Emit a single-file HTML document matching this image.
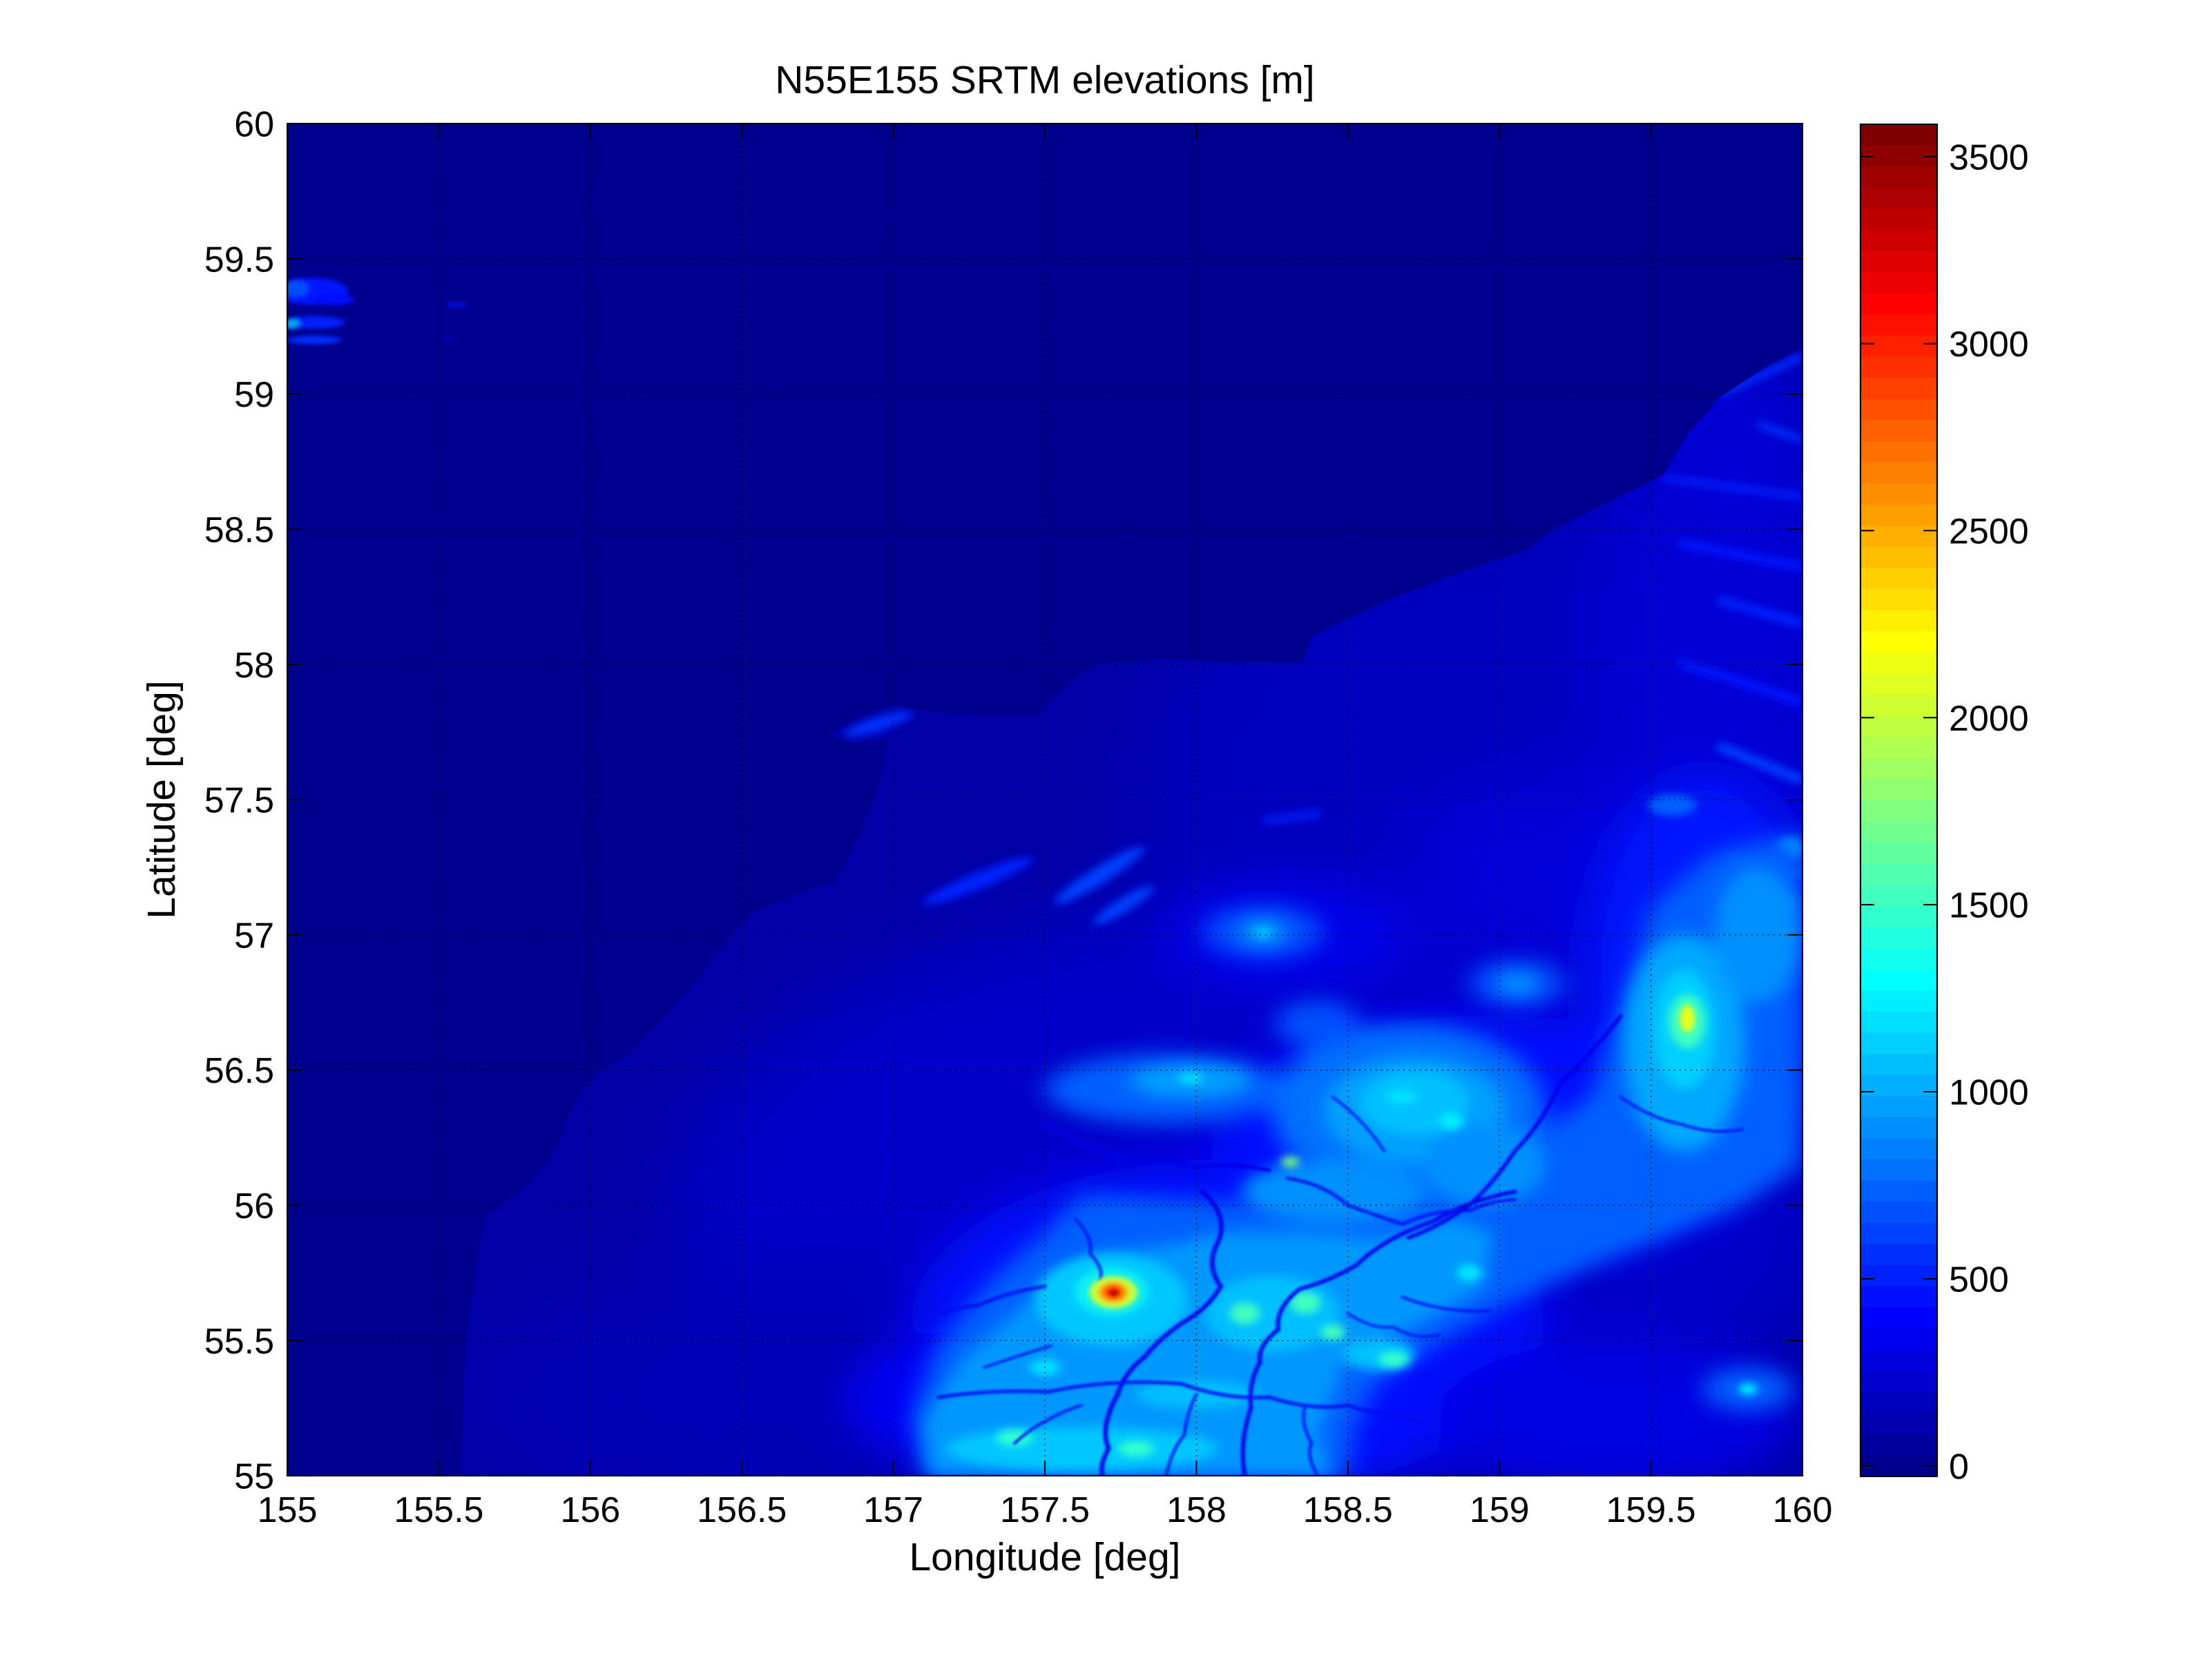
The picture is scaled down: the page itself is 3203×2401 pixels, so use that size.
<!DOCTYPE html>
<html><head><meta charset="utf-8">
<style>
html,body{margin:0;padding:0;background:#fff;}
svg{display:block;}
text{font-family:"Liberation Sans",Arial,Helvetica,sans-serif;fill:#000;}
</style></head><body>
<svg width="3203" height="2401" viewBox="0 0 3203 2401" xmlns="http://www.w3.org/2000/svg">
<defs>
 <filter id="b15" x="-100%" y="-100%" width="300%" height="300%"><feGaussianBlur stdDeviation="15"/></filter>
 <filter id="b8" x="-100%" y="-100%" width="300%" height="300%"><feGaussianBlur stdDeviation="8"/></filter>
 <filter id="b4" x="-100%" y="-100%" width="300%" height="300%"><feGaussianBlur stdDeviation="4"/></filter>
 <filter id="b3" x="-100%" y="-100%" width="300%" height="300%"><feGaussianBlur stdDeviation="3"/></filter>
 <filter id="b2" x="-100%" y="-100%" width="300%" height="300%"><feGaussianBlur stdDeviation="2"/></filter>
 <filter id="b15s" x="-100%" y="-100%" width="300%" height="300%"><feGaussianBlur stdDeviation="1.5"/></filter>
 <filter id="b1" x="-100%" y="-100%" width="300%" height="300%"><feGaussianBlur stdDeviation="0.8"/></filter>
 <filter id="b05" x="-100%" y="-100%" width="300%" height="300%"><feGaussianBlur stdDeviation="0.4"/></filter>
 <clipPath id="ax"><rect x="0" y="0" width="500" height="500"/></clipPath>
 <clipPath id="land"><polygon points="500,500 500,83 488,90 473,101 462,115 454,130 436,140 418,150 410,157 400,161 382,168 364,176 350,183 338,190 335,199 310,199 290,198 275,199 266,200 257,208 247,219 230,219 210,217 200,215 190,219 178,226 186,229 198,228 195,245 188,265 181,280 168,285 153,292 143,305 132,321 122,333 113,344 104,350 97,358 93,367 90,377 82,389 73,398 65,405 62,425 59,449 58,475 57,500"/></clipPath>
</defs>
<rect width="3203" height="2401" fill="#fff"/>

<g transform="translate(416,179) scale(4.388,3.916)">
 <g clip-path="url(#ax)">
  <rect x="0" y="0" width="500" height="500" fill="#00008F"/>
  <!-- NW island -->
  <g filter="url(#b1)">
   <ellipse cx="8" cy="62" rx="12" ry="5" fill="#0018FF"/>
   <ellipse cx="15" cy="65" rx="7" ry="2.2" fill="#0010FF"/>
   <ellipse cx="3" cy="61" rx="4" ry="3" fill="#0050FF"/>
   <ellipse cx="9" cy="73.5" rx="10" ry="2.3" fill="#0020FF"/>
   <ellipse cx="1.5" cy="74" rx="2.5" ry="2" fill="#00A0FF"/>
   <ellipse cx="9" cy="80" rx="9" ry="1.5" fill="#0030FF"/>
   <ellipse cx="56" cy="67" rx="3.5" ry="0.7" fill="#0018FF"/>
   <ellipse cx="53" cy="79.4" rx="1" ry="0.6" fill="#0010FF"/>
  </g>
  <!-- Land -->
  <g clip-path="url(#land)">
   <rect x="0" y="0" width="500" height="500" fill="#0000A6"/>
   <g filter="url(#b15)">
    <ellipse cx="400" cy="250" rx="120" ry="110" fill="#0000BE"/>
    <ellipse cx="475" cy="190" rx="45" ry="120" fill="#0000D4"/>
    <ellipse cx="320" cy="400" rx="190" ry="110" fill="#0000CA"/>
    <ellipse cx="170" cy="470" rx="110" ry="45" fill="#0000B6"/>
    <ellipse cx="420" cy="275" rx="55" ry="35" fill="#0000D8"/>
   </g>
   <g filter="url(#b8)">
    <ellipse cx="310" cy="445" rx="105" ry="62" fill="#0008FF"/>
    <ellipse cx="395" cy="375" rx="90" ry="45" fill="#0010FF"/>
    <ellipse cx="468" cy="315" rx="40" ry="75" fill="#0018FF"/>
    <ellipse cx="330" cy="300" rx="40" ry="20" fill="#0000E8"/>
    <ellipse cx="230" cy="472" rx="45" ry="26" fill="#0000F8"/>
    <ellipse cx="440" cy="478" rx="60" ry="28" fill="#0000E0"/>
   </g>
   <!-- NE streaks -->
   <g filter="url(#b15s)">
    <line x1="473" y1="100" x2="500" y2="86" stroke="#0030FF" stroke-width="2.5"/>
    <line x1="454" y1="131" x2="500" y2="138" stroke="#0020FF" stroke-width="2.5"/>
    <line x1="485" y1="111" x2="500" y2="117" stroke="#0030FF" stroke-width="2.5"/>
    <line x1="459" y1="155" x2="500" y2="164" stroke="#0014FF" stroke-width="3.5"/>
    <line x1="472" y1="176" x2="500" y2="185" stroke="#0020FF" stroke-width="3.5"/>
    <line x1="459" y1="199" x2="500" y2="214" stroke="#0014FF" stroke-width="3.5"/>
    <line x1="472" y1="230" x2="500" y2="243" stroke="#0040FF" stroke-width="3.5"/>
    <line x1="475" y1="272" x2="500" y2="277" stroke="#0060FF" stroke-width="3"/>
    <line x1="322" y1="258" x2="341" y2="255" stroke="#0020FF" stroke-width="2.5"/>
    <ellipse cx="268" cy="278" rx="18" ry="3" transform="rotate(-35 268 278)" fill="#0040FF"/>
    <ellipse cx="276" cy="289" rx="12" ry="2.5" transform="rotate(-35 276 289)" fill="#0040FF"/>
    <ellipse cx="228" cy="280" rx="20" ry="3" transform="rotate(-25 228 280)" fill="#0020FF"/>
    <ellipse cx="195" cy="222" rx="12" ry="2.5" transform="rotate(-20 195 222)" fill="#0030FF"/>
    <ellipse cx="457" cy="252" rx="8" ry="4" fill="#0060FF"/>
    <ellipse cx="496" cy="268" rx="4" ry="4" fill="#00C0FF"/>
    <ellipse cx="492" cy="289" rx="5" ry="4" fill="#00E0FF"/>
   </g>
   <!-- light blue -->
   <g filter="url(#b4)">
    <polygon points="210,500 206,478 214,452 232,428 252,408 262,396 300,398 330,400 360,398 385,392 405,380 430,360 440,330 450,290 470,270 500,262 500,385 480,400 455,412 425,425 400,438 378,452 360,465 352,482 350,500" fill="#0060FF"/>
    <ellipse cx="290" cy="357" rx="40" ry="13" fill="#0060FF"/>
    <ellipse cx="370" cy="365" rx="45" ry="32" fill="#0070FF"/>
    <ellipse cx="322" cy="299" rx="20" ry="10" fill="#0050FF"/>
    <ellipse cx="340" cy="333" rx="14" ry="9" fill="#0050FF"/>
    <ellipse cx="406" cy="318" rx="16" ry="9" fill="#0050FF"/>
    <ellipse cx="482" cy="468" rx="15" ry="8" fill="#0060FF"/>
   </g>
   <g filter="url(#b3)">
    <polygon points="212,500 210,480 222,458 240,440 255,425 268,418 290,415 310,410 335,410 360,412 385,405 398,410 395,430 380,440 365,448 350,455 345,470 340,485 345,500" fill="#0098FF"/>
    <ellipse cx="372" cy="365" rx="30" ry="20" fill="#00A0FF"/>
    <ellipse cx="461" cy="340" rx="20" ry="40" fill="#00A8FF"/>
    <ellipse cx="485" cy="300" rx="14" ry="25" fill="#0090FF"/>
    <ellipse cx="298" cy="354" rx="20" ry="6" fill="#00A0FF"/>
    <ellipse cx="322" cy="299" rx="8" ry="5" fill="#0090FF"/>
    <ellipse cx="406" cy="318" rx="7" ry="4" fill="#0090FF"/>
    <ellipse cx="345" cy="395" rx="30" ry="12" fill="#0090FF"/>
    <ellipse cx="395" cy="385" rx="20" ry="15" fill="#0090FF"/>
   </g>
   <g filter="url(#b2)">
    <ellipse cx="272" cy="435" rx="25" ry="17" fill="#00C8FF"/>
    <ellipse cx="325" cy="440" rx="22" ry="14" fill="#00C0FF"/>
    <ellipse cx="262" cy="490" rx="45" ry="8" fill="#00C8FF"/>
    <ellipse cx="372" cy="362" rx="18" ry="12" fill="#00C0FF"/>
    <ellipse cx="461" cy="335" rx="10" ry="22" fill="#00D0FF"/>
    <ellipse cx="360" cy="455" rx="12" ry="6" fill="#00C0FF"/>
    <ellipse cx="300" cy="470" rx="20" ry="5" fill="#00C0FF"/>
   </g>
   <g filter="url(#b15s)">
    <ellipse cx="272" cy="432" rx="12" ry="9" fill="#10F0F0"/>
    <ellipse cx="316" cy="440" rx="5" ry="4" fill="#40FFC0"/>
    <ellipse cx="336" cy="436" rx="5" ry="4" fill="#40FFC0"/>
    <ellipse cx="345" cy="447" rx="4" ry="3" fill="#40FFC0"/>
    <ellipse cx="365" cy="457" rx="5" ry="3" fill="#30FFD0"/>
    <ellipse cx="462" cy="332" rx="6" ry="10" fill="#40FFC0"/>
    <ellipse cx="368" cy="360" rx="5" ry="3" fill="#00E0FF"/>
    <ellipse cx="384" cy="369" rx="4" ry="3" fill="#00F0FF"/>
    <ellipse cx="331" cy="384" rx="3" ry="2" fill="#80FF80"/>
    <ellipse cx="482" cy="468" rx="3" ry="2" fill="#00FFFF"/>
    <ellipse cx="322" cy="299" rx="3" ry="2" fill="#00C0FF"/>
    <ellipse cx="298" cy="353" rx="4" ry="2" fill="#00E0FF"/>
    <ellipse cx="240" cy="486" rx="6" ry="3" fill="#30FFD0"/>
    <ellipse cx="280" cy="490" rx="6" ry="3" fill="#30FFD0"/>
    <ellipse cx="390" cy="425" rx="4" ry="3" fill="#00E8FF"/>
    <ellipse cx="250" cy="460" rx="5" ry="3" fill="#00E0FF"/>
   </g>
   <!-- rivers -->
   <g filter="url(#b05)" fill="none" stroke-linecap="round" stroke-linejoin="round" opacity="0.9">
    <path d="M302,395 Q311,404 307,414 Q303,422 308,430 Q304,438 296,443 Q288,449 283,456 Q276,462 274,470 Q268,482 271,490 Q268,496 269,500" stroke="#0004E8" stroke-width="1.6"/>
    <path d="M405,395 Q390,398 378,406 Q362,412 353,422 Q344,428 334,431 Q326,438 327,446 Q320,452 321,458 Q317,466 318,475 Q314,488 316,500" stroke="#0004E8" stroke-width="1.5"/>
    <path d="M215,471 Q232,468 251,469 Q272,464 295,466 Q310,472 324,471 Q338,476 350,474 Q366,480 380,478" stroke="#0008F0" stroke-width="1.3"/>
    <path d="M324,387 Q310,384 300,386 Q290,382 281,385 Q270,380 263,378 Q255,372 249,370" stroke="#0004E8" stroke-width="1.4"/>
    <path d="M260,405 Q266,412 265,418 Q270,424 268,428" stroke="#0010F0" stroke-width="1"/>
    <path d="M250,430 Q238,432 228,437 Q218,438 208,444" stroke="#0008F0" stroke-width="1.2"/>
    <path d="M368,434 Q382,440 397,439" stroke="#0010F0" stroke-width="1"/>
    <path d="M330,390 Q342,392 350,400 Q360,404 368,407 Q380,401 390,402 Q398,398 405,398" stroke="#0008F0" stroke-width="1.2"/>
    <path d="M440,330 Q432,342 420,355 Q414,370 405,380 Q398,392 390,400 Q380,408 370,412" stroke="#0004E8" stroke-width="1.4"/>
    <path d="M240,488 Q246,482 250,480 Q256,476 262,474" stroke="#0010F0" stroke-width="1"/>
    <path d="M290,500 Q292,490 296,485 Q297,476 300,470" stroke="#0010F0" stroke-width="1"/>
    <path d="M340,500 Q336,492 338,488 Q334,480 336,474" stroke="#0010F0" stroke-width="1"/>
    <path d="M350,440 Q358,446 365,445 Q372,450 380,448" stroke="#0010F0" stroke-width="0.9"/>
    <path d="M440,360 Q450,368 460,370 Q470,374 480,372" stroke="#0008F0" stroke-width="1"/>
    <path d="M230,460 Q240,456 252,452" stroke="#0010F0" stroke-width="0.9"/>
    <path d="M345,360 Q355,368 362,380" stroke="#0010F0" stroke-width="0.9"/>
   </g>
   <!-- peaks -->
   <g filter="url(#b1)">
    <ellipse cx="272.6" cy="432.2" rx="8" ry="6" fill="#C0FF40"/>
    <ellipse cx="272.6" cy="432.2" rx="5" ry="4" fill="#FFA000"/>
    <ellipse cx="272.6" cy="432.2" rx="3" ry="2.5" fill="#FF2000"/>
    <ellipse cx="272.9" cy="432.6" rx="1.5" ry="1.2" fill="#A00000"/>
    <ellipse cx="462" cy="331" rx="2.5" ry="5" fill="#E0FF20"/>
   </g>
  </g>
 </g>
</g>

<!-- grid -->
<g stroke="#000" stroke-width="1.5" stroke-dasharray="2 6" fill="none" opacity="0.75">
 <path d="M635.4 179V2137M854.8 179V2137M1074.2 179V2137M1293.6 179V2137M1513 179V2137M1732.4 179V2137M1951.8 179V2137M2171.2 179V2137M2390.6 179V2137"/>
 <path d="M416 374.8H2610M416 570.6H2610M416 766.4H2610M416 962.2H2610M416 1158H2610M416 1353.8H2610M416 1549.6H2610M416 1745.4H2610M416 1941.2H2610"/>
</g>
<!-- ticks -->
<path stroke="#000" stroke-width="2" fill="none" d="
M416 2137v-22M416 179v22M635.4 2137v-22M635.4 179v22M854.8 2137v-22M854.8 179v22M1074.2 2137v-22M1074.2 179v22M1293.6 2137v-22M1293.6 179v22M1513 2137v-22M1513 179v22M1732.4 2137v-22M1732.4 179v22M1951.8 2137v-22M1951.8 179v22M2171.2 2137v-22M2171.2 179v22M2390.6 2137v-22M2390.6 179v22M2610 2137v-22M2610 179v22
M416 179h22M2610 179h-22M416 374.8h22M2610 374.8h-22M416 570.6h22M2610 570.6h-22M416 766.4h22M2610 766.4h-22M416 962.2h22M2610 962.2h-22M416 1158h22M2610 1158h-22M416 1353.8h22M2610 1353.8h-22M416 1549.6h22M2610 1549.6h-22M416 1745.4h22M2610 1745.4h-22M416 1941.2h22M2610 1941.2h-22M416 2137h22M2610 2137h-22"/>
<rect x="416" y="179" width="2194" height="1958" fill="none" stroke="#000" stroke-width="2.2"/>

<!-- axis tick labels -->
<g font-size="52" text-anchor="middle">
 <text x="416" y="2204">155</text>
 <text x="635.4" y="2204">155.5</text>
 <text x="854.8" y="2204">156</text>
 <text x="1074.2" y="2204">156.5</text>
 <text x="1293.6" y="2204">157</text>
 <text x="1513" y="2204">157.5</text>
 <text x="1732.4" y="2204">158</text>
 <text x="1951.8" y="2204">158.5</text>
 <text x="2171.2" y="2204">159</text>
 <text x="2390.6" y="2204">159.5</text>
 <text x="2610" y="2204">160</text>
</g>
<g font-size="52" text-anchor="end">
 <text x="397" y="197.6">60</text>
 <text x="397" y="393.4">59.5</text>
 <text x="397" y="589.2">59</text>
 <text x="397" y="785">58.5</text>
 <text x="397" y="980.8">58</text>
 <text x="397" y="1176.6">57.5</text>
 <text x="397" y="1372.4">57</text>
 <text x="397" y="1568.2">56.5</text>
 <text x="397" y="1764">56</text>
 <text x="397" y="1959.8">55.5</text>
 <text x="397" y="2155.6">55</text>
</g>
<text x="1513" y="135" font-size="57" text-anchor="middle">N55E155 SRTM elevations [m]</text>
<text x="1513" y="2274" font-size="57" text-anchor="middle">Longitude [deg]</text>
<text x="253" y="1158" font-size="57" text-anchor="middle" transform="rotate(-90 253 1158)">Latitude [deg]</text>

<!-- colorbar -->
<g>
 <rect x="2694" y="180" width="111" height="31" fill="#800000"/>
 <rect x="2694" y="210.6" width="111" height="31" fill="#8F0000"/>
 <rect x="2694" y="241.2" width="111" height="31" fill="#9F0000"/>
 <rect x="2694" y="271.8" width="111" height="31" fill="#AF0000"/>
 <rect x="2694" y="302.4" width="111" height="31" fill="#BF0000"/>
 <rect x="2694" y="333" width="111" height="31" fill="#CF0000"/>
 <rect x="2694" y="363.6" width="111" height="31" fill="#DF0000"/>
 <rect x="2694" y="394.2" width="111" height="31" fill="#EF0000"/>
 <rect x="2694" y="424.8" width="111" height="31" fill="#FF0000"/>
 <rect x="2694" y="455.3" width="111" height="31" fill="#FF1000"/>
 <rect x="2694" y="485.9" width="111" height="31" fill="#FF2000"/>
 <rect x="2694" y="516.5" width="111" height="31" fill="#FF3000"/>
 <rect x="2694" y="547.1" width="111" height="31" fill="#FF4000"/>
 <rect x="2694" y="577.7" width="111" height="31" fill="#FF5000"/>
 <rect x="2694" y="608.3" width="111" height="31" fill="#FF6000"/>
 <rect x="2694" y="638.9" width="111" height="31" fill="#FF7000"/>
 <rect x="2694" y="669.5" width="111" height="31" fill="#FF8000"/>
 <rect x="2694" y="700.1" width="111" height="31" fill="#FF8F00"/>
 <rect x="2694" y="730.7" width="111" height="31" fill="#FF9F00"/>
 <rect x="2694" y="761.3" width="111" height="31" fill="#FFAF00"/>
 <rect x="2694" y="791.9" width="111" height="31" fill="#FFBF00"/>
 <rect x="2694" y="822.5" width="111" height="31" fill="#FFCF00"/>
 <rect x="2694" y="853.1" width="111" height="31" fill="#FFDF00"/>
 <rect x="2694" y="883.7" width="111" height="31" fill="#FFEF00"/>
 <rect x="2694" y="914.3" width="111" height="31" fill="#FFFF00"/>
 <rect x="2694" y="944.8" width="111" height="31" fill="#EFFF10"/>
 <rect x="2694" y="975.4" width="111" height="31" fill="#DFFF20"/>
 <rect x="2694" y="1006" width="111" height="31" fill="#CFFF30"/>
 <rect x="2694" y="1036.6" width="111" height="31" fill="#BFFF40"/>
 <rect x="2694" y="1067.2" width="111" height="31" fill="#AFFF50"/>
 <rect x="2694" y="1097.8" width="111" height="31" fill="#9FFF60"/>
 <rect x="2694" y="1128.4" width="111" height="31" fill="#8FFF70"/>
 <rect x="2694" y="1159" width="111" height="31" fill="#80FF80"/>
 <rect x="2694" y="1189.6" width="111" height="31" fill="#70FF8F"/>
 <rect x="2694" y="1220.2" width="111" height="31" fill="#60FF9F"/>
 <rect x="2694" y="1250.8" width="111" height="31" fill="#50FFAF"/>
 <rect x="2694" y="1281.4" width="111" height="31" fill="#40FFBF"/>
 <rect x="2694" y="1312" width="111" height="31" fill="#30FFCF"/>
 <rect x="2694" y="1342.6" width="111" height="31" fill="#20FFDF"/>
 <rect x="2694" y="1373.2" width="111" height="31" fill="#10FFEF"/>
 <rect x="2694" y="1403.8" width="111" height="31" fill="#00FFFF"/>
 <rect x="2694" y="1434.3" width="111" height="31" fill="#00EFFF"/>
 <rect x="2694" y="1464.9" width="111" height="31" fill="#00DFFF"/>
 <rect x="2694" y="1495.5" width="111" height="31" fill="#00CFFF"/>
 <rect x="2694" y="1526.1" width="111" height="31" fill="#00BFFF"/>
 <rect x="2694" y="1556.7" width="111" height="31" fill="#00AFFF"/>
 <rect x="2694" y="1587.3" width="111" height="31" fill="#009FFF"/>
 <rect x="2694" y="1617.9" width="111" height="31" fill="#008FFF"/>
 <rect x="2694" y="1648.5" width="111" height="31" fill="#0080FF"/>
 <rect x="2694" y="1679.1" width="111" height="31" fill="#0070FF"/>
 <rect x="2694" y="1709.7" width="111" height="31" fill="#0060FF"/>
 <rect x="2694" y="1740.3" width="111" height="31" fill="#0050FF"/>
 <rect x="2694" y="1770.9" width="111" height="31" fill="#0040FF"/>
 <rect x="2694" y="1801.5" width="111" height="31" fill="#0030FF"/>
 <rect x="2694" y="1832.1" width="111" height="31" fill="#0020FF"/>
 <rect x="2694" y="1862.7" width="111" height="31" fill="#0010FF"/>
 <rect x="2694" y="1893.3" width="111" height="31" fill="#0000FF"/>
 <rect x="2694" y="1923.8" width="111" height="31" fill="#0000EF"/>
 <rect x="2694" y="1954.4" width="111" height="31" fill="#0000DF"/>
 <rect x="2694" y="1985" width="111" height="31" fill="#0000CF"/>
 <rect x="2694" y="2015.6" width="111" height="31" fill="#0000BF"/>
 <rect x="2694" y="2046.2" width="111" height="31" fill="#0000AF"/>
 <rect x="2694" y="2076.8" width="111" height="31" fill="#00009F"/>
 <rect x="2694" y="2107.4" width="111" height="30.6" fill="#00008F"/>
</g>
<path stroke="#000" stroke-width="2" fill="none" d="M2694 2122.7h20M2805 2122.7h-20M2694 1851.9h20M2805 1851.9h-20M2694 1581h20M2805 1581h-20M2694 1310.1h20M2805 1310.1h-20M2694 1039.3h20M2805 1039.3h-20M2694 768.4h20M2805 768.4h-20M2694 497.6h20M2805 497.6h-20M2694 226.7h20M2805 226.7h-20"/>
<rect x="2694" y="180" width="111" height="1958" fill="none" stroke="#000" stroke-width="2.2"/>
<g font-size="52" text-anchor="start">
 <text x="2822" y="2141.3">0</text>
 <text x="2822" y="1870.5">500</text>
 <text x="2822" y="1599.6">1000</text>
 <text x="2822" y="1328.7">1500</text>
 <text x="2822" y="1057.9">2000</text>
 <text x="2822" y="787">2500</text>
 <text x="2822" y="516.2">3000</text>
 <text x="2822" y="245.3">3500</text>
</g>
</svg>
</body></html>
